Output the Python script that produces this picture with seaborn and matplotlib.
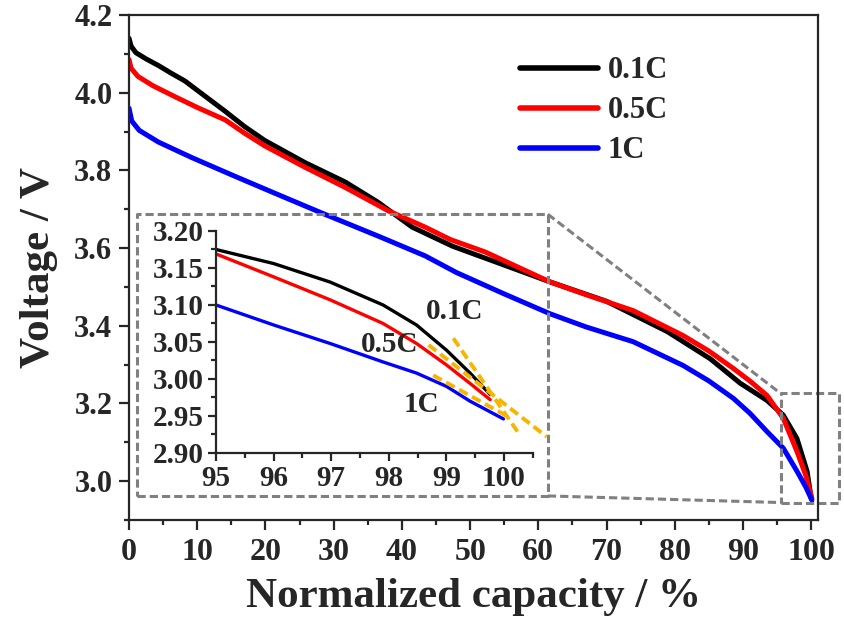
import numpy as np
import matplotlib
matplotlib.use("Agg")
import matplotlib.pyplot as plt
import seaborn as sns
import pandas as pd
from matplotlib.ticker import MultipleLocator, FormatStrFormatter

# ---- data ----
rates = ["0.1C", "0.5C", "1C"]
colors = ["#000000", "#ff0000", "#0000ff"]

cap_01 = [0, 0.3, 1.0, 2.5, 4.3, 6.2, 8.2, 11.0, 14.1, 17.0, 19.9, 25.8, 31.7, 36.5,
          41.5, 47.4, 54.4, 61.7, 70.0, 78.9, 85.2, 89.6, 93.5, 95.9, 97.9, 99.4, 100.0]
volt_01 = [4.14, 4.12, 4.103, 4.087, 4.07, 4.05, 4.03, 3.993, 3.952, 3.912, 3.877,
           3.82, 3.77, 3.718, 3.654, 3.605, 3.56, 3.513, 3.463, 3.385, 3.315, 3.252,
           3.208, 3.17, 3.11, 3.025, 2.955]

cap_05 = [0, 0.3, 1.3, 3.5, 6.7, 10.0, 14.1, 17.0, 19.9, 25.8, 31.7, 38.0, 43.4,
          47.1, 52.2, 61.7, 67.0, 73.9, 81.2, 85.0, 88.6, 91.0, 93.5, 95.9, 97.9, 99.2,
          100.1]
volt_05 = [4.085, 4.063, 4.042, 4.018, 3.99, 3.962, 3.93, 3.895, 3.863, 3.808, 3.756,
           3.696, 3.654, 3.622, 3.59, 3.513, 3.48, 3.439, 3.375, 3.335, 3.29, 3.258,
           3.221, 3.162, 3.077, 3.015, 2.956]

cap_1 = [0, 0.4, 1.5, 4.3, 9.2, 15.5, 21.8, 28.7, 36.5, 43.4, 48.0, 55.0, 61.7, 67.0,
         73.9, 81.2, 85.0, 88.6, 91.0, 93.5, 95.9, 97.9, 99.2, 100.1]
volt_1 = [3.96, 3.927, 3.903, 3.873, 3.833, 3.785, 3.738, 3.687, 3.631, 3.58, 3.537,
          3.482, 3.431, 3.397, 3.359, 3.298, 3.258, 3.213, 3.175, 3.128, 3.085, 3.026,
          2.985, 2.951]

# inset (zoom of 95-100 %)
zcap_01 = [95.0, 96.0, 96.98, 97.9, 98.48, 99.0, 99.41, 99.76]
zvolt_01 = [3.175, 3.156, 3.131, 3.10, 3.073, 3.039, 3.008, 2.979]
zcap_05 = [95.0, 96.0, 96.98, 97.9, 98.48, 99.0, 99.41, 99.76]
zvolt_05 = [3.169, 3.138, 3.107, 3.075, 3.048, 3.019, 2.994, 2.972]
zcap_1 = [95.0, 96.0, 96.98, 97.9, 98.48, 99.0, 99.41, 99.99]
zvolt_1 = [3.10, 3.073, 3.048, 3.023, 3.008, 2.99, 2.97, 2.946]

# dashed tangent guides in the inset: (x0, y0, x1, y1)
tangents = [(99.12, 3.055, 100.25, 2.927),
            (98.69, 3.046, 100.74, 2.922),
            (98.77, 3.005, 100.07, 2.949)]

# inset labels: (text, x, y)
zoom_labels = [("0.1C", 99.15, 3.091), ("0.5C", 98.02, 3.047), ("1C", 98.56, 2.965)]

main_df = pd.concat([
    pd.DataFrame({"cap": c, "volt": v, "rate": r})
    for c, v, r in zip([cap_01, cap_05, cap_1], [volt_01, volt_05, volt_1], rates)
])
zoom_df = pd.concat([
    pd.DataFrame({"cap": c, "volt": v, "rate": r})
    for c, v, r in zip([zcap_01, zcap_05, zcap_1], [zvolt_01, zvolt_05, zvolt_1], rates)
])

sns.set_style("ticks")
plt.rcParams["font.family"] = ["Liberation Serif", "DejaVu Serif"]
plt.rcParams["font.weight"] = "bold"
plt.rcParams["axes.labelweight"] = "bold"

palette = dict(zip(rates, colors))

fig = plt.figure(figsize=(8.45, 6.33), dpi=100)
ax = fig.add_axes([0.1527, 0.1785, 0.8154, 0.7978])

sns.lineplot(data=main_df, x="cap", y="volt", hue="rate", palette=palette,
             linewidth=3.6, sort=False, estimator=None, ax=ax)

ax.set_xlim(0, 101)
ax.set_ylim(2.9, 4.2)
ax.xaxis.set_major_locator(MultipleLocator(10))
ax.xaxis.set_minor_locator(MultipleLocator(5))
ax.yaxis.set_major_locator(MultipleLocator(0.2))
ax.yaxis.set_minor_locator(MultipleLocator(0.1))
ax.yaxis.set_major_formatter(FormatStrFormatter("%.1f"))
ax.tick_params(which="major", direction="out", length=7, width=1.6, pad=5)
ax.tick_params(which="minor", direction="out", length=3.5, width=1.6)
ax.tick_params(axis="x", labelsize=23, pad=6)
ax.tick_params(axis="y", labelsize=22)
for s in ax.spines.values():
    s.set_linewidth(1.6)
ax.set_xlabel("Normalized capacity / %", fontsize=31, fontweight="bold", labelpad=8)
ax.set_ylabel("Voltage / V", fontsize=31, fontweight="bold", labelpad=12)

leg = ax.legend(loc="upper left", bbox_to_anchor=(0.568, 0.918), frameon=False,
                fontsize=22, handlelength=2.55, handletextpad=0.3, labelspacing=0.36,
                borderpad=0, borderaxespad=0)
for line in leg.get_lines():
    line.set_linewidth(4.0)

# dashed frames and connector lines (zoom indication)
gray = "#808080"
dash = dict(color=gray, linestyle=(0, (2.7, 1.3)), linewidth=2.2, clip_on=False)
bx0, bx1, by0, by1 = 1.17, 61.4, 2.962, 3.687
sx0, sx1, sy0, sy1 = 95.5, 104.0, 2.945, 3.226
ax.plot([bx0, bx1, bx1, bx0, bx0], [by0, by0, by1, by1, by0], **dash)
ax.plot([sx0, sx1, sx1, sx0, sx0], [sy0, sy0, sy1, sy1, sy0], **dash)
ax.plot([bx1, sx0], [by1, sy1], **dash)
ax.plot([bx1, sx0], [by0, sy0], **dash)

# inset
ins = fig.add_axes([0.2556, 0.2844, 0.375, 0.3507])
ins.patch.set_alpha(0)
sns.lineplot(data=zoom_df, x="cap", y="volt", hue="rate", palette=palette,
             linewidth=2.4, sort=False, estimator=None, legend=False, ax=ins)
for x0, y0, x1, y1 in tangents:
    ins.plot([x0, x1], [y0, y1], color="#f7b500", linestyle=(0, (2.5, 1.3)),
             linewidth=2.8, clip_on=False)
ins.set_xlim(95, 100.5)
ins.set_ylim(2.9, 3.2)
ins.xaxis.set_major_locator(MultipleLocator(1))
ins.xaxis.set_minor_locator(MultipleLocator(0.5))
ins.yaxis.set_major_locator(MultipleLocator(0.05))
ins.yaxis.set_minor_locator(MultipleLocator(0.025))
ins.yaxis.set_major_formatter(FormatStrFormatter("%.2f"))
ins.xaxis.set_major_formatter(FormatStrFormatter("%d"))
ins.tick_params(which="major", direction="out", length=6, width=1.6, labelsize=21, pad=3)
ins.tick_params(which="minor", direction="out", length=3.5, width=1.6)
for side in ["top", "right"]:
    ins.spines[side].set_visible(False)
for side in ["left", "bottom"]:
    ins.spines[side].set_linewidth(1.6)
ins.set_xlabel("")
ins.set_ylabel("")

for txt, x, y in zoom_labels:
    ins.text(x, y, txt, fontsize=21, fontweight="bold", ha="center", va="center")

fig.savefig("out.png", dpi=100)
